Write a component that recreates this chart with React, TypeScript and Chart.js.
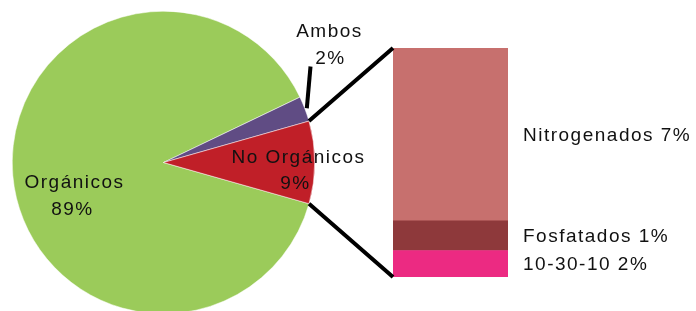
import React, { useEffect, useRef } from 'react';
import { Chart, registerables } from 'chart.js';
Chart.register(...registerables);

// Pie (main) data — order chosen so slices sit as in the reference
const pieCategories = ['Orgánicos', 'Ambos', 'No Orgánicos'];
const pieValues = [88.5, 2.7, 8.8];
const pieLabels = ['89%', '2%', '9%'];
const pieColors = ['#9BCB5A', '#604C84', '#C01F28'];

// Secondary stacked bar (breakdown of "No Orgánicos"), bottom to top
const barCategories = ['10-30-10', 'Fosfatados', 'Nitrogenados'];
const barValues = [1.02, 1.14, 6.64];
const barLabels = ['2%', '1%', '7%'];
const barColors = ['#EC2A82', '#8E393B', '#C7706E'];

const W = 696;
const H = 320;
const FONT = '19px "Liberation Sans", Arial, sans-serif';

export default function App() {
  const pieRef = useRef<HTMLCanvasElement>(null);
  const barRef = useRef<HTMLCanvasElement>(null);

  useEffect(() => {
    const pieChart = new Chart(pieRef.current!, {
      type: 'pie',
      data: {
        labels: pieCategories,
        datasets: [
          {
            data: pieValues,
            backgroundColor: pieColors,
            borderColor: '#ffffff',
            borderWidth: 0.5,
          },
        ],
      },
      options: {
        responsive: false,
        animation: false,
        events: [],
        rotation: 105.8,
        layout: { padding: { left: 12, top: 11, right: W - 315, bottom: H - 314 } },
        plugins: { legend: { display: false }, tooltip: { enabled: false } },
      },
    });

    const barTotal = barValues.reduce((a, b) => a + b, 0);

    const overlay = {
      id: 'overlay',
      afterDraw(chart: any) {
        const ctx = chart.ctx as CanvasRenderingContext2D;
        const arcs = pieChart.getDatasetMeta(0).data as any[];
        const noOrg = arcs[2];
        const cx = noOrg.x;
        const cy = noOrg.y;
        const r = noOrg.outerRadius;
        const area = chart.chartArea;

        ctx.save();
        ctx.strokeStyle = '#000';
        ctx.lineWidth = 4;
        ctx.lineCap = 'butt';
        // connectors
        const top = { x: cx + r * Math.cos(noOrg.startAngle), y: cy + r * Math.sin(noOrg.startAngle) };
        const bot = { x: cx + r * Math.cos(noOrg.endAngle), y: cy + r * Math.sin(noOrg.endAngle) };
        ctx.beginPath();
        ctx.moveTo(top.x, top.y);
        ctx.lineTo(area.left, area.top);
        ctx.moveTo(bot.x, bot.y);
        ctx.lineTo(area.left, area.bottom);
        ctx.stroke();

        // Ambos leader line
        const amb = arcs[1];
        const mid = (amb.startAngle + amb.endAngle) / 2;
        const sx = cx + (r + 2) * Math.cos(mid);
        const sy = cy + (r + 2) * Math.sin(mid);
        ctx.beginPath();
        ctx.moveTo(sx, sy);
        ctx.lineTo(cx + 147, cy - 96);
        ctx.stroke();

        // text
        ctx.fillStyle = '#111';
        ctx.font = FONT;
        (ctx as any).letterSpacing = '1.5px';
        ctx.textBaseline = 'middle';
        ctx.textAlign = 'center';
        // Orgánicos
        ctx.fillText(pieCategories[0], cx - 89, cy + 20);
        ctx.fillText(pieLabels[0], cx - 91, cy + 47);
        // No Orgánicos
        ctx.fillText(pieCategories[2], cx + 135, cy - 5);
        ctx.fillText(pieLabels[2], cx + 132, cy + 21);
        // Ambos
        ctx.fillText(pieCategories[1], cx + 166, cy - 131);
        ctx.fillText(pieLabels[1], cx + 167, cy - 104);

        // bar labels
        ctx.textAlign = 'left';
        const bars = chart.data.datasets.map((_: any, i: number) => chart.getDatasetMeta(i).data[0]);
        bars.forEach((b: any, i: number) => {
          const yMid = (b.y + b.base) / 2;
          ctx.fillText(`${barCategories[i]} ${barLabels[i]}`, area.right + 15, yMid + 1);
        });
        ctx.restore();
      },
    };

    const barChart = new Chart(barRef.current!, {
      type: 'bar',
      data: {
        labels: ['No Orgánicos'],
        datasets: barCategories.map((c, i) => ({
          label: c,
          data: [barValues[i]],
          backgroundColor: barColors[i],
          borderWidth: 0,
          barPercentage: 1,
          categoryPercentage: 1,
        })),
      },
      options: {
        responsive: false,
        animation: false,
        events: [],
        layout: { padding: { left: 393, top: 48, right: W - 508, bottom: H - 277 } },
        scales: {
          x: { stacked: true, display: false },
          y: { stacked: true, display: false, min: 0, max: barTotal },
        },
        plugins: { legend: { display: false }, tooltip: { enabled: false } },
      },
      plugins: [overlay],
    });

    return () => {
      barChart.destroy();
      pieChart.destroy();
    };
  }, []);

  const layer: React.CSSProperties = { position: 'absolute', left: 0, top: 0 };
  return (
    <div
      style={{
        position: 'fixed',
        left: 0,
        top: 0,
        width: W,
        height: 311,
        overflow: 'hidden',
        background: '#fff',
      }}
    >
      <canvas ref={pieRef} width={W} height={H} style={layer} />
      <canvas ref={barRef} width={W} height={H} style={layer} />
    </div>
  );
}
